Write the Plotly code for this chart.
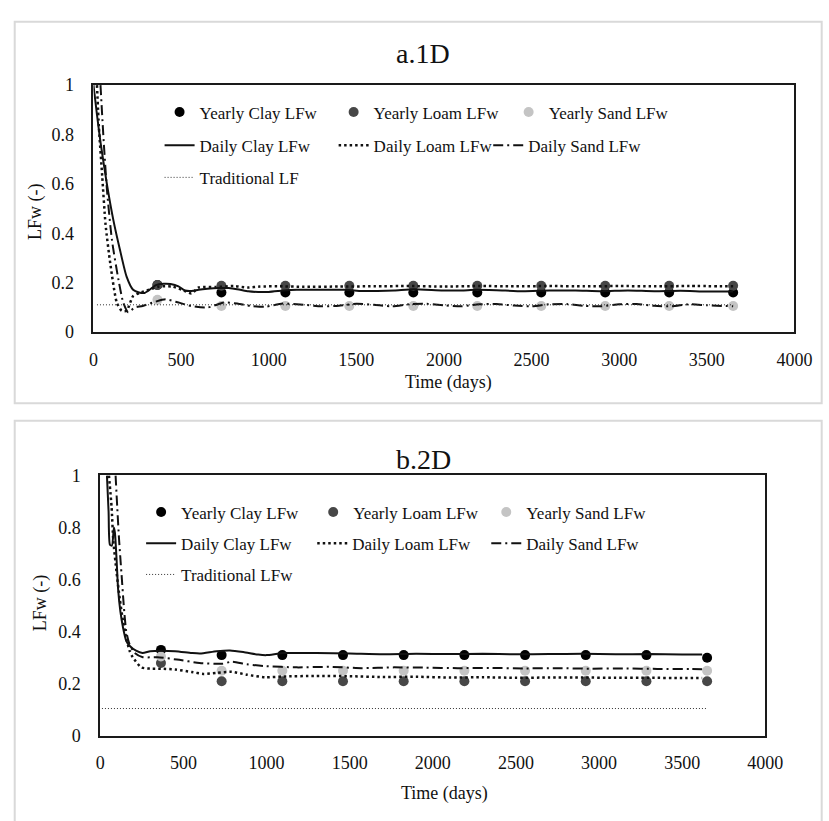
import plotly.graph_objects as go

# ---------------- data ----------------
years = [365, 730, 1095, 1460, 1825, 2190, 2555, 2920, 3285, 3650]

# panel a (1D)
yearly_clay_1d = [0.19, 0.16, 0.16, 0.16, 0.16, 0.16, 0.16, 0.16, 0.16, 0.16]
yearly_loam_1d = [0.19, 0.187, 0.187, 0.187, 0.187, 0.187, 0.187, 0.187, 0.187, 0.187]
yearly_sand_1d = [0.13, 0.105, 0.105, 0.105, 0.105, 0.105, 0.105, 0.105, 0.105, 0.105]

daily_clay_1d = [(0, 1.0), (20, 0.88), (41, 0.764), (78, 0.593), (115, 0.448), (152, 0.33),
                 (189, 0.224), (226, 0.171), (260, 0.16), (290, 0.158), (320, 0.171), (356, 0.19),
                 (400, 0.195), (440, 0.194), (485, 0.185), (522, 0.168), (560, 0.166), (600, 0.171),
                 (650, 0.175), (716, 0.178), (772, 0.178), (830, 0.172), (883, 0.165), (940, 0.162),
                 (1000, 0.162), (1087, 0.168), (1160, 0.171), (1300, 0.171), (1440, 0.171),
                 (1531, 0.166), (1620, 0.166), (1716, 0.168), (1827, 0.173), (1994, 0.168),
                 (2100, 0.168), (2179, 0.171), (2300, 0.169), (2450, 0.165), (2600, 0.168),
                 (2750, 0.168), (2900, 0.165), (3050, 0.168), (3200, 0.165), (3350, 0.167),
                 (3500, 0.164), (3650, 0.164)]
daily_loam_1d = [(20, 1.0), (31, 0.83), (50, 0.63), (69, 0.435), (96, 0.277), (133, 0.119),
                 (161, 0.086), (189, 0.086), (226, 0.145), (263, 0.158), (318, 0.171), (374, 0.184),
                 (448, 0.184), (504, 0.171), (559, 0.156), (600, 0.18), (700, 0.182), (800, 0.186),
                 (880, 0.18), (950, 0.184), (1050, 0.185), (1200, 0.183), (1400, 0.184),
                 (1600, 0.185), (1800, 0.186), (2000, 0.184), (2200, 0.186), (2400, 0.185),
                 (2600, 0.186), (2800, 0.185), (3000, 0.186), (3200, 0.185), (3400, 0.186),
                 (3650, 0.185)]
daily_sand_1d = [(40, 1.0), (59, 0.764), (78, 0.566), (106, 0.369), (143, 0.21), (170, 0.119),
                 (198, 0.08), (235, 0.099), (281, 0.105), (337, 0.119), (411, 0.132), (485, 0.119),
                 (559, 0.105), (651, 0.099), (744, 0.119), (820, 0.115), (900, 0.105), (980, 0.102),
                 (1080, 0.115), (1200, 0.11), (1300, 0.104), (1400, 0.106), (1500, 0.114),
                 (1600, 0.11), (1700, 0.104), (1800, 0.112), (1900, 0.114), (2000, 0.108),
                 (2100, 0.104), (2200, 0.112), (2300, 0.113), (2400, 0.107), (2500, 0.104),
                 (2600, 0.112), (2700, 0.113), (2800, 0.106), (2900, 0.104), (3000, 0.112),
                 (3100, 0.113), (3200, 0.106), (3300, 0.104), (3400, 0.112), (3500, 0.108),
                 (3650, 0.104)]
traditional_1d = [(20, 0.11), (3650, 0.11)]

# panel b (2D)
yearly_clay_2d = [0.33, 0.31, 0.31, 0.31, 0.31, 0.31, 0.31, 0.31, 0.31, 0.30]
yearly_loam_2d = [0.28, 0.21, 0.21, 0.21, 0.21, 0.21, 0.21, 0.21, 0.21, 0.21]
yearly_sand_2d = [0.305, 0.25, 0.25, 0.25, 0.25, 0.25, 0.25, 0.25, 0.25, 0.25]

daily_clay_2d = [(40, 1.0), (50, 0.86), (58, 0.734), (70, 0.73), (82, 0.8), (88, 0.78),
                 (98, 0.678), (107, 0.565), (121, 0.477), (137, 0.415), (156, 0.365),
                 (176, 0.346), (215, 0.327), (254, 0.318), (300, 0.325), (365, 0.327),
                 (450, 0.325), (550, 0.318), (600, 0.316), (700, 0.325), (780, 0.328),
                 (860, 0.322), (950, 0.312), (1000, 0.31), (1100, 0.318), (1300, 0.318),
                 (1500, 0.316), (1700, 0.313), (1900, 0.315), (2100, 0.314), (2300, 0.315),
                 (2500, 0.313), (2700, 0.314), (2900, 0.315), (3100, 0.313), (3300, 0.314),
                 (3500, 0.312), (3620, 0.312)]
daily_loam_2d = [(52, 1.0), (68, 0.878), (78, 0.753), (98, 0.628), (117, 0.527), (137, 0.44),
                 (156, 0.377), (176, 0.327), (195, 0.302), (246, 0.263), (300, 0.258),
                 (365, 0.258), (450, 0.255), (550, 0.245), (620, 0.238), (700, 0.242),
                 (790, 0.246), (880, 0.235), (990, 0.225), (1100, 0.228), (1300, 0.23),
                 (1500, 0.229), (1700, 0.226), (1900, 0.227), (2100, 0.224), (2300, 0.225),
                 (2500, 0.223), (2700, 0.224), (2900, 0.224), (3100, 0.223), (3300, 0.223),
                 (3500, 0.222), (3620, 0.222)]
daily_sand_2d = [(92, 1.0), (102, 0.878), (113, 0.753), (127, 0.628), (141, 0.503), (156, 0.402),
                 (176, 0.352), (207, 0.318), (256, 0.302), (344, 0.302), (461, 0.293),
                 (597, 0.28), (734, 0.277), (793, 0.285), (880, 0.275), (988, 0.268),
                 (1183, 0.263), (1378, 0.265), (1573, 0.26), (1768, 0.263), (1950, 0.262),
                 (2150, 0.26), (2350, 0.261), (2550, 0.259), (2750, 0.26), (2950, 0.258),
                 (3150, 0.259), (3350, 0.257), (3550, 0.257), (3620, 0.256)]
traditional_2d = [(10, 0.105), (3650, 0.105)]

x_ticks = [0, 500, 1000, 1500, 2000, 2500, 3000, 3500, 4000]
y_ticks = [0, 0.2, 0.4, 0.6, 0.8, 1]

# ---------------- layout helpers ----------------
W, H = 829, 821
FONT = "Liberation Serif, Times New Roman, serif"


def px(x):
    return x / W


def py(y):
    return 1 - y / H


fig = go.Figure()

C_CLAY, C_LOAM, C_SAND = "#000000", "#474747", "#c4c4c4"
LINE_STYLES = {
    "clay": dict(color="#111111", width=2, dash="solid"),
    "loam": dict(color="#111111", width=2.5, dash="2.5px,3px"),
    "sand": dict(color="#111111", width=2, dash="10px,4px,2px,4px"),
    "trad": dict(color="#333333", width=1, dash="1px,2px"),
}

panels = [
    dict(xa="x", ya="y",
         yearly=[("Yearly Clay LFw", yearly_clay_1d, C_CLAY),
                 ("Yearly Loam LFw", yearly_loam_1d, C_LOAM),
                 ("Yearly Sand LFw", yearly_sand_1d, C_SAND)],
         daily=[("Daily Clay LFw", daily_clay_1d, "clay"),
                ("Daily Loam LFw", daily_loam_1d, "loam"),
                ("Daily Sand LFw", daily_sand_1d, "sand"),
                ("Traditional LF", traditional_1d, "trad")],
         # legend text start x, centre y (pixels)
         leg=[(199, 105), (378, 105), (558, 105), (199, 139), (378, 139), (537, 139), (199, 172)]),
    dict(xa="x2", ya="y2",
         yearly=[("Yearly Clay LFw", yearly_clay_2d, C_CLAY),
                 ("Yearly Loam LFw", yearly_loam_2d, C_LOAM),
                 ("Yearly Sand LFw", yearly_sand_2d, C_SAND)],
         daily=[("Daily Clay LFw", daily_clay_2d, "clay"),
                ("Daily Loam LFw", daily_loam_2d, "loam"),
                ("Daily Sand LFw", daily_sand_2d, "sand"),
                ("Traditional LFw", traditional_2d, "trad")],
         leg=[(180, 515), (357, 515), (535, 515), (180, 547), (356, 547), (535, 547), (180, 579)]),
]

legend_layouts = {}
lid = 0
for p in panels:
    k = 0
    for name, vals, col in p["yearly"]:
        lid += 1
        lname = "legend" if lid == 1 else f"legend{lid}"
        fig.add_trace(go.Scatter(x=years, y=vals, mode="markers", name=name,
                                 marker=dict(color=col, size=10),
                                 xaxis=p["xa"], yaxis=p["ya"], legend=lname))
        tx, ty = p["leg"][k]
        legend_layouts[lname] = (tx, ty)
        k += 1
    for name, pairs, style in p["daily"]:
        lid += 1
        lname = f"legend{lid}"
        st = LINE_STYLES[style]
        fig.add_trace(go.Scatter(x=[d for d, _ in pairs], y=[v for _, v in pairs],
                                 mode="lines", name=name,
                                 line=dict(color=st["color"], width=st["width"], dash=st["dash"],
                                           shape="spline" if style != "trad" else "linear",
                                           smoothing=0.6),
                                 xaxis=p["xa"], yaxis=p["ya"], legend=lname))
        tx, ty = p["leg"][k]
        legend_layouts[lname] = (tx, ty)
        k += 1

layout_legends = {}
for lname, (tx, ty) in legend_layouts.items():
    layout_legends[lname] = dict(x=px(tx - 40), y=py(ty), xanchor="left", yanchor="middle",
                                 bgcolor="rgba(0,0,0,0)", borderwidth=0,
                                 font=dict(family=FONT, size=17, color="#111111"),
                                 itemsizing="trace", itemclick=False, itemdoubleclick=False)

axis_common = dict(showgrid=False, zeroline=False, showline=True, mirror=True,
                   linecolor="#1a1a1a", linewidth=2, ticks="",
                   tickfont=dict(family=FONT, size=18, color="#111111"))

fig.update_layout(
    width=W, height=H, margin=dict(l=0, r=0, t=0, b=0),
    paper_bgcolor="white", plot_bgcolor="white",
    showlegend=True,
    xaxis=dict(domain=[px(91), px(812)], anchor="y", range=[0, 4000], tickvals=x_ticks,
               ticklabelstandoff=10, **axis_common),
    yaxis=dict(domain=[py(330), py(77)], anchor="x", range=[0, 1], tickvals=y_ticks,
               ticklabelstandoff=14, **axis_common),
    xaxis2=dict(domain=[px(98), px(782)], anchor="y2", range=[0, 4000], tickvals=x_ticks,
                ticklabelstandoff=10, **axis_common),
    yaxis2=dict(domain=[py(744), py(477)], anchor="x2", range=[0, 1], tickvals=y_ticks,
                ticklabelstandoff=14, **axis_common),
    **layout_legends,
)

# panel frames
fig.add_shape(type="rect", xref="paper", yref="paper", x0=px(10), x1=px(840), y0=py(403), y1=py(12),
              line=dict(color="#d9d9d9", width=2), layer="below")
fig.add_shape(type="rect", xref="paper", yref="paper", x0=px(10), x1=px(840), y0=py(840), y1=py(421),
              line=dict(color="#d9d9d9", width=2), layer="below")

for txt, x, y, size, ang in [
    ("a.1D", 430, 45, 28, 0),
    ("b.2D", 430, 461, 28, 0),
    ("Time (days)", 456, 382, 18, 0),
    ("Time (days)", 452, 803, 18, 0),
    ("LFw (-)", 32, 207, 18, -90),
    ("LFw (-)", 36, 608, 18, -90),
]:
    fig.add_annotation(text=txt, x=px(x), y=py(y), xref="paper", yref="paper", showarrow=False,
                       xanchor="center", yanchor="middle", textangle=ang,
                       font=dict(family=FONT, size=size, color="#111111"))

fig.write_html("out.html")
